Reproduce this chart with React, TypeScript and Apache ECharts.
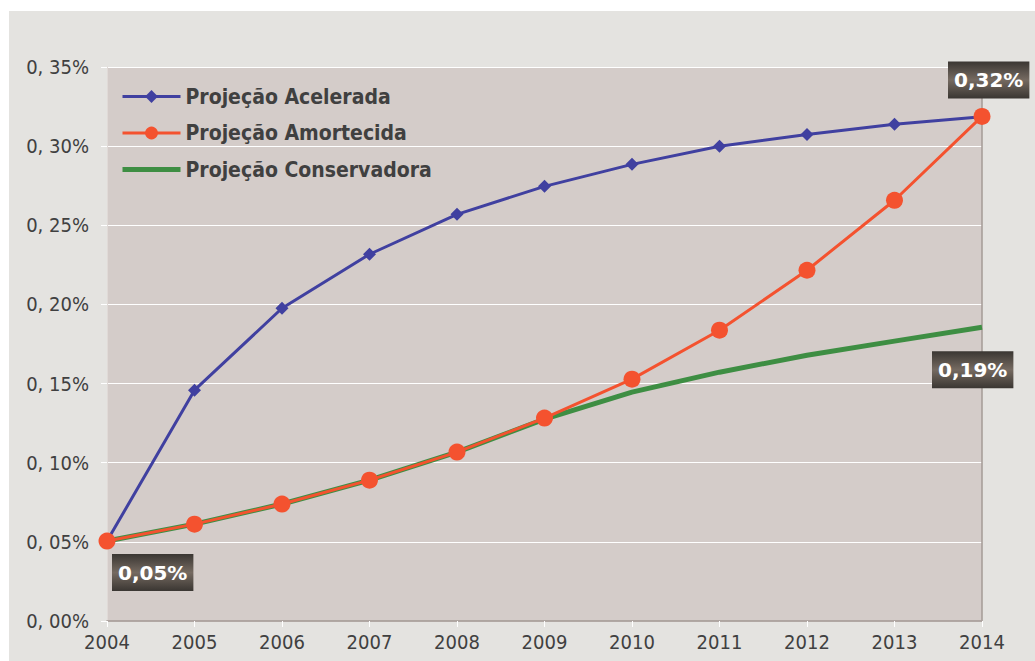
import React, { useEffect, useRef } from "react";
import * as echarts from "echarts";

const years = ["2004", "2005", "2006", "2007", "2008", "2009", "2010", "2011", "2012", "2013", "2014"];
const acelerada = [0.0505, 0.1458, 0.1976, 0.2317, 0.2569, 0.2746, 0.2885, 0.2999, 0.3074, 0.3138, 0.3185];
const amortecida = [0.0505, 0.0612, 0.0739, 0.089, 0.1067, 0.1282, 0.1528, 0.1837, 0.2216, 0.2658, 0.3188];
const conservadora = [0.0505, 0.0612, 0.0739, 0.089, 0.1067, 0.1275, 0.1446, 0.1572, 0.1679, 0.1768, 0.1856];
const seriesNames = ["Projeção Acelerada", "Projeção Amortecida", "Projeção Conservadora"];

const fmt = (v: number) => v.toFixed(2).replace(".", ",") + "%";

const labelBg = {
  type: "linear", x: 0, y: 0, x2: 0, y2: 1,
  colorStops: [
    { offset: 0, color: "#3a3632" },
    { offset: 0.5, color: "#756a61" },
    { offset: 1, color: "#3a3632" },
  ],
};

const boxLabel = (pos: [number, number]) => ({
  show: true,
  position: pos,
  formatter: (p: any) => fmt(typeof p.value === "number" ? p.value : p.data.value),
  color: "#ffffff",
  fontWeight: "bold",
  fontSize: 20,
  fontFamily: "DejaVu Sans",
  backgroundColor: labelBg,
  padding: [9, 6, 8, 6],
});

export default function App() {
  const ref = useRef<HTMLDivElement>(null);
  useEffect(() => {
    document.body.style.margin = "0";
    const chart = echarts.init(ref.current!, null, { renderer: "svg" });
    const font = "DejaVu Sans Condensed";
    chart.setOption({
      animation: false,
      backgroundColor: "#ffffff",
      graphic: [
        { type: "rect", z: -10, shape: { x: 9, y: 11, width: 1030, height: 660 }, style: { fill: "#e4e3e0" } },
      ],
      grid: {
        left: 107, right: 53, top: 67, bottom: 40,
        show: true, backgroundColor: "#d4ccc9", borderWidth: 0,
      },
      legend: {
        left: 115, top: 81, orient: "vertical", itemGap: 15.5, itemWidth: 58, itemHeight: 16,
        textStyle: { fontFamily: font, fontWeight: "bold", fontSize: 21, color: "#404040" },
        data: [
          { name: seriesNames[0], lineStyle: { width: 3 } },
          { name: seriesNames[1], lineStyle: { width: 3 } },
          { name: seriesNames[2], lineStyle: { width: 5 }, itemStyle: { opacity: 0 } },
        ],
      },
      xAxis: [
        {
          type: "category", data: years, boundaryGap: false,
          axisLine: { lineStyle: { color: "#c9c1bd", width: 1.5 } },
          axisTick: { show: true, length: 6, lineStyle: { color: "#ffffff" } },
          axisLabel: { fontFamily: font, fontSize: 20, color: "#404040", margin: 11 },
        },
        {
          type: "category", data: years, boundaryGap: false, position: "top",
          axisLine: { lineStyle: { color: "#a59b96", width: 1.5 } },
          axisTick: { show: false }, axisLabel: { show: false },
        },
      ],
      yAxis: [
        {
          type: "value", min: 0, max: 0.35, interval: 0.05,
          axisLine: { show: true, lineStyle: { color: "#e0dad7" } },
          axisTick: { show: true, length: 6, lineStyle: { color: "#ffffff" } },
          splitLine: { lineStyle: { color: "#ffffff", width: 1 } },
          axisLabel: { fontFamily: font, fontSize: 20, color: "#404040", margin: 18, formatter: (v: number) => fmt(v).replace(",", ", ") },
        },
        {
          type: "value", min: 0, max: 0.35, interval: 0.05, position: "right",
          axisLine: { show: true, lineStyle: { color: "#a59b96", width: 1.5 } },
          axisTick: { show: false }, axisLabel: { show: false }, splitLine: { show: false },
        },
      ],
      series: [
        {
          name: seriesNames[2], type: "line", z: 2,
          symbol: "none",
          lineStyle: { color: "#3e8e43", width: 5 }, itemStyle: { color: "#3e8e43" },
          data: conservadora,
          markPoint: {
            symbol: "circle", symbolSize: 1,
            itemStyle: { color: "rgba(0,0,0,0)" },
            label: boxLabel([-49.5, 24.5]),
            data: [{ coord: [years[10], conservadora[10]], value: conservadora[10] }],
          },
        },
        {
          name: seriesNames[0], type: "line", z: 3,
          symbol: "diamond", symbolSize: 13,
          lineStyle: { color: "#4040a0", width: 3 }, itemStyle: { color: "#4040a0" },
          data: acelerada,
        },
        {
          name: seriesNames[1], type: "line", z: 4,
          symbol: "circle", symbolSize: 17,
          lineStyle: { color: "#f4522f", width: 3 }, itemStyle: { color: "#f4522f" },
          data: amortecida.map((v, i) =>
            i === 10 ? { value: v, label: boxLabel([-25.5, -46.5]) }
            : i === 0 ? { value: v, label: boxLabel([13.5, 21.5]) } : v),
        },
      ],
    });
    return () => chart.dispose();
  }, []);
  return <div ref={ref} style={{ width: 1035, height: 661 }} />;
}
